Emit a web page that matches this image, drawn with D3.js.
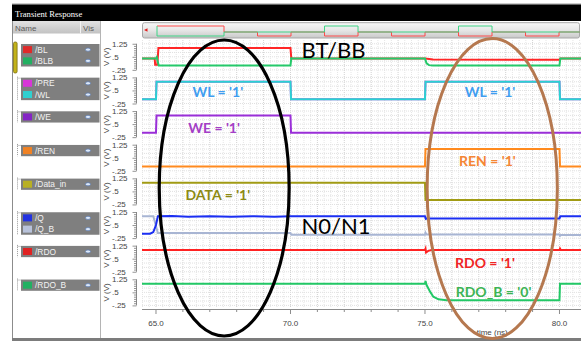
<!DOCTYPE html>
<html>
<head>
<meta charset="utf-8">
<script src="https://cdn.jsdelivr.net/npm/d3@7"></script>
<style>
  html, body { margin: 0; padding: 0; background: #fff; }
  svg { display: block; }
</style>
</head>
<body>
<svg id="chart" width="588" height="341"></svg>
<script>
// ---------------- Data ----------------
const stripSignals = [["/BL", "/BLB"], ["/PRE", "/WL"], ["/WE"], ["/REN"], ["/Data_in"], ["/Q", "/Q_B"], ["/RDO"], ["/RDO_B"]];
const voltTickLabels = [1.25, 0.5, -0.25];
const timeTickLabels = [65, 70, 75, 80];
const timeWindow = [64.48, 80.8];

// Waveforms as [time (ns), voltage (V)]
const wBL = [[64.48, 0.4], [64.95, 0.4], [64.97, 0.05], [65.05, 0.05], [65.09, 1.0], [70.0, 1.0], [70.03, 0.4], [75.0, 0.4], [75.3, 0.34], [80.0, 0.33], [80.03, 0.4], [80.8, 0.4]];
const wBLB = [[64.48, 0.4], [65.0, 0.4], [65.03, 0.48], [65.1, 0.0], [70.0, 0.0], [70.03, 0.42], [70.08, 0.4], [75.0, 0.4], [75.06, 0.12], [75.15, 0.02], [75.3, 0.0], [80.0, 0.0], [80.03, 0.4], [80.8, 0.4]];
const wPRE = [[64.48, 0], [65.0, 0], [65.02, 1.0], [70.0, 1.0], [70.02, 0], [75.0, 0], [75.02, 1.0], [80.0, 1.0], [80.02, 0], [80.8, 0]];
const wWL = [[64.48, 0], [65.0, 0], [65.02, 1.0], [70.0, 1.0], [70.02, 0], [75.0, 0], [75.02, 1.0], [80.0, 1.0], [80.02, 0], [80.8, 0]];
const wWE = [[64.48, 0], [65.0, 0], [65.02, 1.0], [70.0, 1.0], [70.02, 0], [80.8, 0]];
const wREN = [[64.48, 0], [75.0, 0], [75.02, 1.0], [80.0, 1.0], [80.02, 0], [80.8, 0]];
const wDataIn = [[64.48, 1.0], [75.0, 1.0], [75.02, 0], [80.8, 0]];
const wQ = [[64.48, 0], [64.78, 0], [64.9, 0.1], [65.0, 0.5], [65.07, 1.0], [65.6, 1.02], [66.2, 0.98], [67.0, 1.0], [67.8, 0.97], [68.6, 1.01], [69.4, 0.98], [70.0, 1.0], [75.0, 1.0], [75.03, 0.86], [75.08, 0.88], [80.0, 0.88], [80.03, 1.0], [80.8, 1.0]];
const wQB = [[64.48, 1.0], [64.9, 1.0], [65.07, 0.04], [70.0, 0.04], [70.03, -0.06], [75.0, -0.06], [75.02, 0.06], [75.06, -0.04], [80.0, -0.04], [80.02, -0.12], [80.06, -0.07], [80.8, -0.07]];
const wRDO = [[64.48, 1.0], [75.0, 1.0], [75.02, 1.08], [75.04, 0.86], [75.12, 0.95], [75.25, 1.0], [80.0, 1.0], [80.02, 1.08], [80.05, 1.0], [80.8, 1.0]];
const wRDOB = [[64.48, 1.0], [75.0, 1.0], [75.02, 1.15], [75.06, 0.92], [75.19, 0.54], [75.31, 0.25], [75.5, 0.1], [75.8, 0.05], [80.0, 0.04], [80.02, 1.0], [80.8, 1.0]];

// Overview strip (whole run) for BL / BLB, time in ns
const ovWindow = [-2.24, 63.13];
const ovBL = [[0, 1], [10, 1], [10, 0.4], [15, 0.4], [15, 0], [20, 0], [20, 0.4], [25, 0.4], [25, 0], [30, 0], [30, 0.4], [35, 0.4], [35, 0], [40, 0], [40, 0.4], [45, 0.4], [45, 0], [50, 0], [50, 0.4], [55, 0.4], [55, 0], [60, 0], [60, 0.4], [63.1, 0.4]];
const ovBLB = [[0, 1], [0, 0], [10, 0], [10, 0.4], [25, 0.4], [25, 1], [30, 1], [30, 0.4], [45, 0.4], [45, 1], [50, 1], [50, 0.4], [63.1, 0.4]];

const waves = {
  "/BL": wBL, "/BLB": wBLB, "/PRE": wPRE, "/WL": wWL, "/WE": wWE, "/REN": wREN,
  "/Data_in": wDataIn, "/Q": wQ, "/Q_B": wQB, "/RDO": wRDO, "/RDO_B": wRDOB
};

// ---------------- Styles ----------------
const lineColor = {
  "/BL": "#ff2626", "/BLB": "#25c96a", "/PRE": "#e040e0", "/WL": "#2ad2d2", "/WE": "#9a2fd8",
  "/REN": "#ff8a1e", "/Data_in": "#a19b14", "/Q": "#1a2ef2", "/Q_B": "#a8b5d3", "/RDO": "#ff2222", "/RDO_B": "#22c866"
};
const swatchColor = {
  "/BL": "#e02a2a", "/BLB": "#22b062", "/PRE": "#d836d8", "/WL": "#30d0d0", "/WE": "#8424c4",
  "/REN": "#f08224", "/Data_in": "#b8b024", "/Q": "#2232e0", "/Q_B": "#b8c2da", "/RDO": "#e02222", "/RDO_B": "#22b062"
};
// draw order inside a strip (later = on top)
const drawOrder = { "/BL": 0, "/BLB": 1, "/PRE": 0, "/WL": 1, "/Q_B": 0, "/Q": 1 };

const sans = "'Liberation Sans', Arial, sans-serif";
const svg = d3.select("#chart");

// ---------------- Scales ----------------
const plotL = 142, plotR = 581;
const x = d3.scaleLinear().domain(timeWindow).range([plotL, plotR]);
const stripTop0 = 43.75, stripStep = 33.65, stripH = 26.1;
const yStrip = i => d3.scaleLinear().domain([-0.25, 1.25])
  .range([stripTop0 + stripStep * i + stripH, stripTop0 + stripStep * i]);

// ---------------- Window frame ----------------
const defs = svg.append("defs");
const g1 = defs.append("linearGradient").attr("id", "hdr").attr("x1", 0).attr("y1", 0).attr("x2", 0).attr("y2", 1);
g1.append("stop").attr("offset", 0).attr("stop-color", "#e2e2e2");
g1.append("stop").attr("offset", 1).attr("stop-color", "#c2c2c2");
const g2 = defs.append("linearGradient").attr("id", "ovbg").attr("x1", 0).attr("y1", 0).attr("x2", 0).attr("y2", 1);
g2.append("stop").attr("offset", 0).attr("stop-color", "#f8f8f8");
g2.append("stop").attr("offset", 0.5).attr("stop-color", "#e6e6e6");
g2.append("stop").attr("offset", 1).attr("stop-color", "#c8c8c8");
defs.append("clipPath").attr("id", "plotclip").append("rect")
  .attr("x", plotL).attr("y", 38).attr("width", plotR - plotL).attr("height", 272);

svg.append("rect").attr("width", 588).attr("height", 341).attr("fill", "#fff");
svg.append("rect").attr("x", 12).attr("y", 3.5).attr("width", plotR - 12).attr("height", 1).attr("fill", "#9a9a9a");
svg.append("rect").attr("x", 12).attr("y", 4.5).attr("width", plotR - 12).attr("height", 16.5).attr("fill", "#000");
svg.append("text").attr("x", 15).attr("y", 17).attr("fill", "#fff")
  .attr("font-family", "'Liberation Serif', 'DejaVu Serif', serif").attr("font-size", 8.6)
  .text("Transient Response");

// ---------------- Signal list panel ----------------
svg.append("rect").attr("x", 12.5).attr("y", 21).attr("width", 88).attr("height", 12.5).attr("fill", "url(#hdr)");
svg.append("line").attr("x1", 80.5).attr("x2", 80.5).attr("y1", 21).attr("y2", 33.5).attr("stroke", "#f2f2f2");
svg.append("text").attr("x", 15).attr("y", 30.5).attr("font-family", sans).attr("font-size", 8).attr("fill", "#5a5a5a").text("Name");
svg.append("text").attr("x", 83).attr("y", 30.5).attr("font-family", sans).attr("font-size", 8).attr("fill", "#5a5a5a").text("Vis");
svg.append("line").attr("x1", 12.5).attr("x2", 12.5).attr("y1", 21).attr("y2", 338).attr("stroke", "#8c8c8c");
svg.append("line").attr("x1", 100.5).attr("x2", 100.5).attr("y1", 21).attr("y2", 338).attr("stroke", "#b4b4b4");

// selection bracket of the first group
svg.append("rect").attr("x", 13.5).attr("y", 42).attr("width", 3.6).attr("height", 31).attr("rx", 1.5)
  .attr("fill", "#c2b21a").attr("stroke", "#7c7010").attr("stroke-width", 0.8);

const rowH = 11.25;
const list = svg.append("g");
stripSignals.forEach((names, i) => {
  const top = 44 + stripStep * i;
  const h = rowH * names.length;
  if (i > 0) {
    list.append("line").attr("x1", 17.5).attr("x2", 17.5).attr("y1", top - 1).attr("y2", top + h)
      .attr("stroke", "#9a9a9a").attr("stroke-dasharray", "1,1");
    list.append("line").attr("x1", 17.5).attr("x2", 21).attr("y1", top + 0.5).attr("y2", top + 0.5)
      .attr("stroke", "#9a9a9a").attr("stroke-dasharray", "1,1");
  }
  list.append("rect").attr("x", 21).attr("y", top).attr("width", 78.5).attr("height", h).attr("fill", "#7f7f7f");
  names.forEach((n, j) => {
    const cy = top + rowH * j + rowH / 2;
    list.append("rect").attr("x", 23).attr("y", cy - 3.5).attr("width", 9).attr("height", 7).attr("fill", swatchColor[n]);
    list.append("text").attr("x", 35).attr("y", cy + 3).attr("font-family", sans).attr("font-size", 8.4)
      .attr("fill", "#f2f2f2").text(n);
    list.append("ellipse").attr("cx", 88).attr("cy", cy).attr("rx", 2.6).attr("ry", 1.6)
      .attr("fill", "#dce8f8").attr("stroke", "#5c7cb4").attr("stroke-width", 0.7);
  });
});

// ---------------- Overview bar ----------------
const ovx = d3.scaleLinear().domain(ovWindow).range([plotL, 580]);
const ovy = d3.scaleLinear().domain([0, 1]).range([36, 26]);
svg.append("rect").attr("x", plotL + 0.5).attr("y", 22.7).attr("width", 437).attr("height", 15.3).attr("rx", 2)
  .attr("fill", "url(#ovbg)").attr("stroke", "#a8a8a8");
svg.append("path").attr("d", "M144,30 L147.5,28.3 L147.5,31.7 Z").attr("fill", "#e01e1e");
const ovLine = d3.line().x(d => ovx(d[0])).y(d => ovy(d[1]));
svg.append("path").datum(ovBL).attr("d", ovLine).attr("fill", "none").attr("stroke", "#ff4a4a").attr("stroke-width", 1);
svg.append("path").datum(ovBLB).attr("d", ovLine).attr("fill", "none").attr("stroke", "#3ed486").attr("stroke-width", 1);

// ---------------- Grid ----------------
const grid = svg.append("g").attr("clip-path", "url(#plotclip)");
d3.range(64.5, 80.8, 0.25).forEach(t => {
  const major = Math.abs(t - Math.round(t)) < 1e-6;
  grid.append("line").attr("x1", x(t)).attr("x2", x(t)).attr("y1", 40).attr("y2", 308)
    .attr("stroke", major ? "#d2d2d2" : "#e6e6e6").attr("stroke-dasharray", "1,1");
});
stripSignals.forEach((names, i) => {
  const ys = yStrip(i);
  d3.range(-0.25, 1.26, 0.25).forEach(v => {
    grid.append("line").attr("x1", plotL).attr("x2", plotR).attr("y1", ys(v)).attr("y2", ys(v))
      .attr("stroke", "#e0e0e0").attr("stroke-dasharray", "1,1");
  });
});

// ---------------- Strips: y axes and waveforms ----------------
const fmtV = d => String(d).replace("0.", ".");
stripSignals.forEach((names, i) => {
  const ys = yStrip(i);
  const ax = svg.append("g");
  // ruler-style tick column
  ax.append("line").attr("x1", 136.5).attr("x2", 136.5).attr("y1", ys(1.25)).attr("y2", ys(-0.25)).attr("stroke", "#8a8a8a");
  d3.range(-0.25, 1.26, 0.125).forEach(v => {
    const big = voltTickLabels.some(l => Math.abs(l - v) < 1e-6);
    ax.append("line").attr("x1", big ? 132.5 : 134).attr("x2", 136.5).attr("y1", ys(v) + 0.5).attr("y2", ys(v) + 0.5)
      .attr("stroke", "#7a7a7a").attr("stroke-width", 0.8);
  });
  voltTickLabels.forEach(v => {
    ax.append("text").attr("x", 112).attr("y", ys(v) + 3).attr("font-family", sans).attr("font-size", 8)
      .attr("fill", "#444").text(fmtV(v));
  });
  const cy = (ys(1.25) + ys(-0.25)) / 2;
  ax.append("text").attr("transform", `translate(109,${cy}) rotate(-90)`).attr("text-anchor", "middle")
    .attr("font-family", sans).attr("font-size", 8).attr("fill", "#444").text("V (V)");

  const line = d3.line().x(d => x(d[0])).y(d => ys(d[1]));
  const ordered = names.slice().sort((a, b) => (drawOrder[a] || 0) - (drawOrder[b] || 0));
  const g = svg.append("g").attr("clip-path", "url(#plotclip)");
  ordered.forEach(n => {
    g.append("path").datum(waves[n]).attr("d", line).attr("fill", "none")
      .attr("stroke", lineColor[n]).attr("stroke-width", 2).attr("stroke-linejoin", "miter");
  });
});

// ---------------- Time axis ----------------
const tax = svg.append("g");
tax.append("line").attr("x1", plotL).attr("x2", plotR).attr("y1", 309.5).attr("y2", 309.5).attr("stroke", "#8c8c8c");
d3.range(65, 81, 1).forEach(t => {
  const major = timeTickLabels.includes(t);
  tax.append("line").attr("x1", x(t)).attr("x2", x(t)).attr("y1", 309.5).attr("y2", major ? 314 : 312)
    .attr("stroke", "#8c8c8c");
});
timeTickLabels.forEach(t => {
  tax.append("text").attr("x", x(t)).attr("y", 326).attr("text-anchor", "middle")
    .attr("font-family", sans).attr("font-size", 8).attr("fill", "#444").text(d3.format(".1f")(t));
});
tax.append("text").attr("x", x(77.5)).attr("y", 335).attr("text-anchor", "middle")
  .attr("font-family", sans).attr("font-size", 8).attr("fill", "#444").text("time (ns)");

svg.append("rect").attr("x", 12).attr("y", 338).attr("width", plotR - 12).attr("height", 3).attr("fill", "#7c7c7c");

// ---------------- Annotations ----------------
const ann = svg.append("g");
ann.append("ellipse").attr("cx", (x(65.12) + x(69.95)) / 2).attr("cy", 188).attr("rx", (x(69.95) - x(65.12)) / 2).attr("ry", 148)
  .attr("fill", "none").attr("stroke", "#000").attr("stroke-width", 3.2);
ann.append("ellipse").attr("cx", (x(75.08) + x(79.92)) / 2).attr("cy", 188.5).attr("rx", (x(79.92) - x(75.08)) / 2).attr("ry", 150)
  .attr("fill", "none").attr("stroke", "#b5784f").attr("stroke-width", 3);

const bold = "Lato, 'Open Sans', sans-serif";
const labels = [
  { text: "WL = '1'", t: 67.30, strip: 1, v: 0.12, color: "#3f9df0" },
  { text: "WL = '1'", t: 77.42, strip: 1, v: 0.12, color: "#3f9df0" },
  { text: "WE = '1'", t: 67.16, strip: 2, v: 0.0, color: "#a43fc6" },
  { text: "DATA = '1'", t: 67.30, strip: 4, v: -0.02, color: "#8c8a14" },
  { text: "REN = '1'", t: 77.32, strip: 3, v: 0.03, color: "#f58634" },
  { text: "RDO = '1'", t: 77.23, strip: 6, v: -0.035, color: "#f02424" },
  { text: "RDO_B = '0'", t: 77.55, strip: 7, v: 0.23, color: "#3cb454" }
];
labels.forEach(l => {
  ann.append("text").attr("x", x(l.t)).attr("y", yStrip(l.strip)(l.v)).attr("text-anchor", "middle")
    .attr("font-family", bold).attr("font-weight", "bold").attr("font-size", 14).attr("fill", l.color).text(l.text);
});
const bigLabels = [
  { text: "BT/BB", t: 71.6, strip: 0, v: 0.43 },
  { text: "N0/N1", t: 71.69, strip: 5, v: -0.01 }
];
bigLabels.forEach(l => {
  ann.append("text").attr("x", x(l.t)).attr("y", yStrip(l.strip)(l.v)).attr("text-anchor", "middle")
    .attr("font-family", bold).attr("font-size", 22).attr("fill", "#000").text(l.text);
});
</script>
</body>
</html>
